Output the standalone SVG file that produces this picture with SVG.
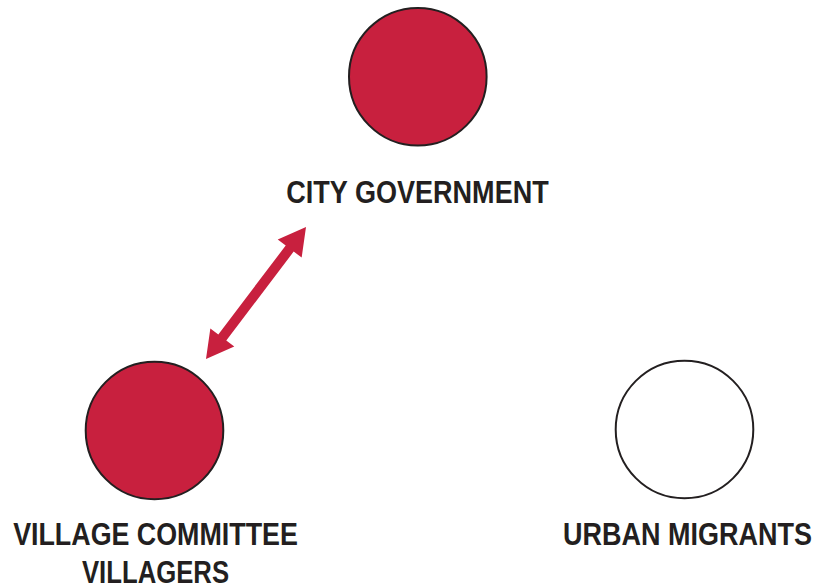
<svg xmlns="http://www.w3.org/2000/svg" width="819" height="588" viewBox="0 0 819 588">
<style>
.node{stroke:#231f20;stroke-width:2}
.red{fill:#c8203e}
.white{fill:#ffffff}
.lbl{font-family:"Liberation Sans",Arial,sans-serif;font-weight:bold;font-size:31px;fill:#231f20;text-anchor:middle}
.arrow{fill:#c8203e}
</style>
<rect width="819" height="588" fill="#ffffff"/>
<g id="city-government">
<circle class="node red" cx="417.8" cy="76.7" r="68.8"/>
<text class="lbl" transform="translate(417.5,203) scale(0.873,1)" x="0" y="0">CITY GOVERNMENT</text>
</g>
<g id="village-committee">
<circle class="node red" cx="154.5" cy="430.5" r="68.8"/>
<text class="lbl" transform="translate(155.5,545) scale(0.866,1)" x="0" y="0">VILLAGE COMMITTEE</text>
<text class="lbl" transform="translate(155.5,583) scale(0.829,1)" x="0" y="0">VILLAGERS</text>
</g>
<g id="urban-migrants">
<circle class="node white" cx="684.5" cy="429.5" r="68.8"/>
<text class="lbl" transform="translate(687.5,545) scale(0.871,1)" x="0" y="0">URBAN MIGRANTS</text>
</g>
<g id="connectors">
<g transform="translate(206,359) rotate(-52.85)">
<polygon class="arrow" points="0,0 27,-15 27,-5 138.6,-5 138.6,-15 165.6,0 138.6,15 138.6,5 27,5 27,15"/>
</g>
</g>
</svg>
